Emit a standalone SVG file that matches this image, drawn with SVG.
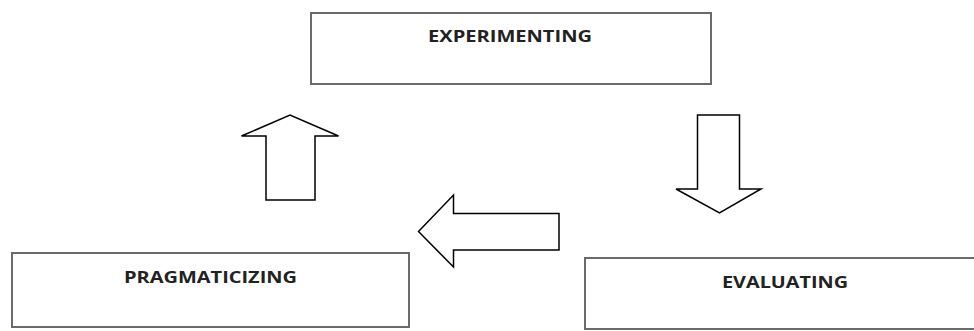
<svg xmlns="http://www.w3.org/2000/svg" width="974" height="331" viewBox="0 0 974 331">
<style>
.box{fill:#fff;stroke:#6a6a6a;stroke-width:2}
.lbl{font-family:"Open Sans","Liberation Sans",sans-serif;font-weight:bold;font-size:16.5px;fill:#222;text-anchor:middle}
.arr{fill:#fff;stroke:#000;stroke-width:1.5;stroke-linejoin:miter}
</style>
<rect width="974" height="331" fill="#fff"/>
<g id="experimenting">
<rect class="box" x="311" y="13" width="400" height="71"/>
<text class="lbl" x="510" y="42" textLength="164" lengthAdjust="spacingAndGlyphs">EXPERIMENTING</text>
</g>
<g id="pragmaticizing">
<rect class="box" x="12" y="253" width="397" height="74"/>
<text class="lbl" x="210.5" y="283" textLength="173" lengthAdjust="spacingAndGlyphs">PRAGMATICIZING</text>
</g>
<g id="evaluating">
<rect class="box" x="585" y="258" width="400" height="71"/>
<text class="lbl" x="785" y="288" textLength="126" lengthAdjust="spacingAndGlyphs">EVALUATING</text>
</g>
<g id="connectors">
<polygon class="arr" points="697.5,115 739.5,115 739.5,189 761,189 719.5,213 676,189 697.5,189"/>
<polygon class="arr" points="559,213.5 559,250 453.5,250 453.5,267 418.5,231.5 453.5,195 453.5,213.5"/>
<polygon class="arr" points="266,200 315,200 315,136 338.5,136 290,115 241.5,136 266,136"/>
</g>
</svg>
